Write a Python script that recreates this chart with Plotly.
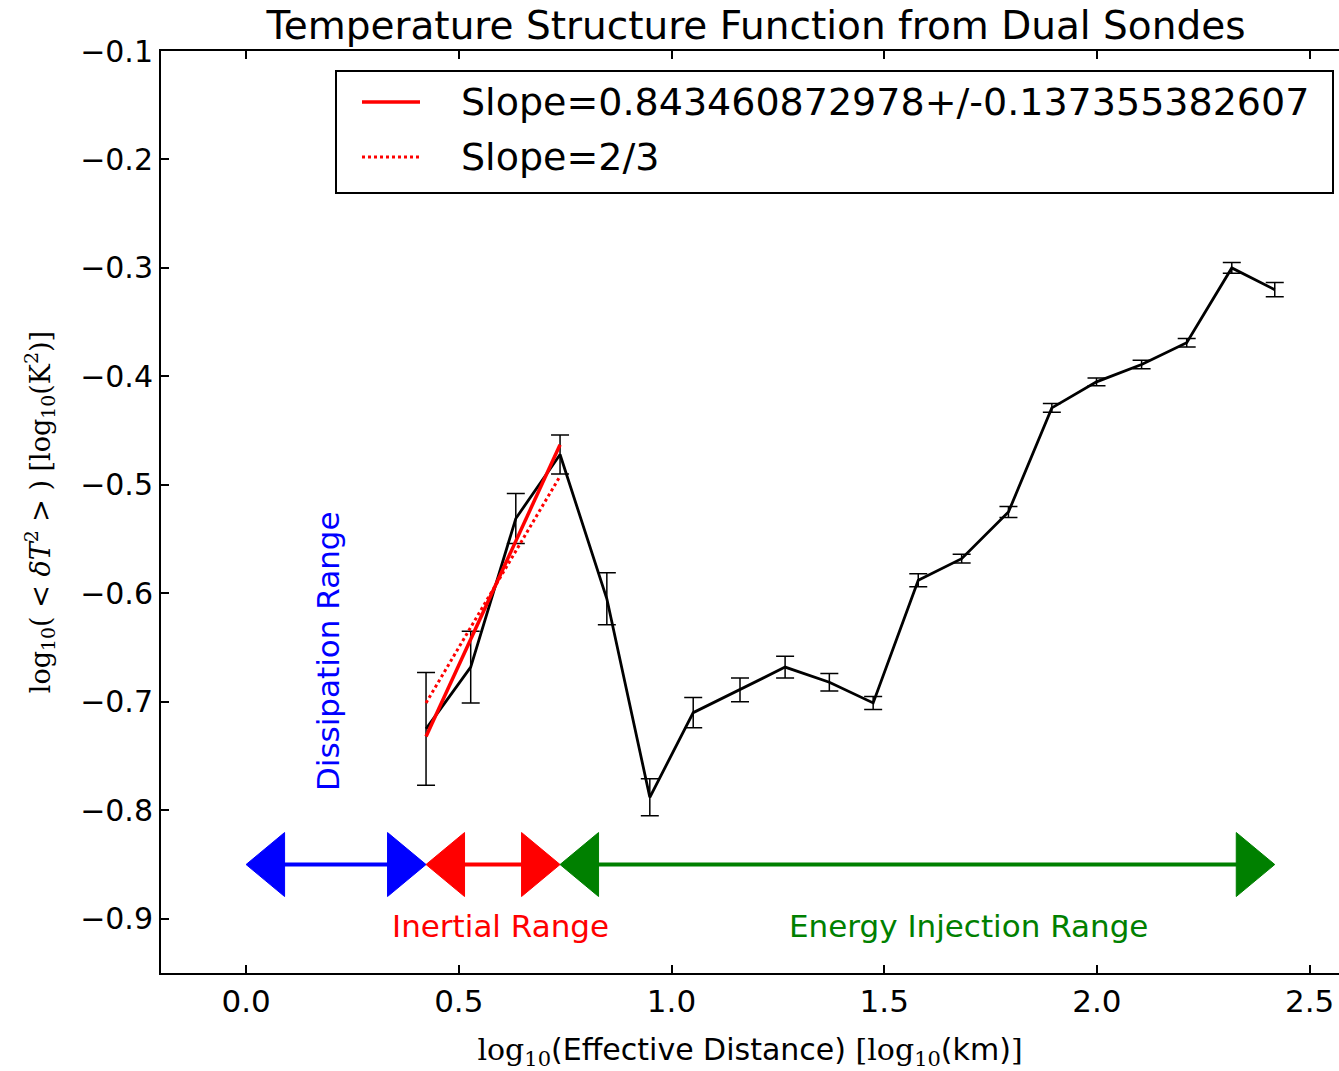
import plotly.graph_objects as go

# ---------------- data ----------------
log_dist = [0.423, 0.528, 0.634, 0.738, 0.848, 0.949, 1.051, 1.161, 1.267, 1.371,
            1.474, 1.580, 1.682, 1.792, 1.894, 1.999, 2.105, 2.211, 2.317, 2.418]
log_dT2 = [-0.725, -0.668, -0.531, -0.472, -0.605, -0.788, -0.710, -0.689, -0.668, -0.682,
           -0.701, -0.588, -0.568, -0.525, -0.429, -0.405, -0.389, -0.369, -0.300, -0.320]
log_dT2_err = [0.052, 0.033, 0.023, 0.018, 0.024, 0.017, 0.014, 0.011, 0.010, 0.008,
               0.006, 0.006, 0.004, 0.005, 0.004, 0.0035, 0.004, 0.004, 0.005, 0.0065]

fit_x = [0.423, 0.738]
fit_y = [-0.732, -0.463]          # Slope=0.8435 fit
k41_y = [-0.701, -0.492]          # Slope=2/3 reference

fit_label = "Slope=0.843460872978+/-0.137355382607"
k41_label = "Slope=2/3"

range_names = ["Dissipation Range", "Inertial Range", "Energy Injection Range"]
range_start = [0.0, 0.423, 0.738]
range_end = [0.423, 0.738, 2.418]
range_colors = ["#0000ff", "#ff0000", "#008000"]
arrow_y = -0.85
label_x = [0.193, 0.599, 1.698]
label_y = [-0.653, -0.907, -0.907]
label_angle = [-90, 0, 0]

# ---------------- layout geometry ----------------
OFF = 0                      # page body margin removed via post_script
PW, PH = 1339, 1071          # page size
W, H = PW - OFF, PH - OFF
PL, PT, PR, PB = 161, 51, 1339, 973   # plot area in page pixels
ML, MT = PL - OFF, PT - OFF
MR = W - (PR - OFF)
MB = H - (PB - OFF)
xr = [-0.2, 2.569]
yr = [-0.95, -0.1]
px_per_x = (PR - PL) / (xr[1] - xr[0])
px_per_y = (PB - PT) / (yr[1] - yr[0])
head_len = 38.5 / px_per_x
head_half = 32 / px_per_y


def pxx(p):  # page pixel x -> paper coordinate
    return (p - PL) / (PR - PL)


def pxy(p):  # page pixel y -> paper coordinate
    return 1 - (p - PT) / (PB - PT)


fig = go.Figure()
shapes = []

# arrows
for s, e, c in zip(range_start, range_end, range_colors):
    fig.add_trace(go.Scatter(x=[s + head_len * 0.5, e - head_len * 0.5], y=[arrow_y, arrow_y],
                             mode="lines", line=dict(color=c, width=4),
                             showlegend=False, hoverinfo="skip"))
    shapes.append(dict(type="path", xref="x", yref="y",
                       path=f"M {s},{arrow_y} L {s + head_len},{arrow_y + head_half} "
                            f"L {s + head_len},{arrow_y - head_half} Z",
                       fillcolor=c, line=dict(color=c, width=1), layer="above"))
    shapes.append(dict(type="path", xref="x", yref="y",
                       path=f"M {e},{arrow_y} L {e - head_len},{arrow_y + head_half} "
                            f"L {e - head_len},{arrow_y - head_half} Z",
                       fillcolor=c, line=dict(color=c, width=1), layer="above"))

# data with error bars
fig.add_trace(go.Scatter(x=log_dist, y=log_dT2, mode="lines",
                         line=dict(color="black", width=2.8),
                         error_y=dict(type="data", array=log_dT2_err, visible=True,
                                      color="black", thickness=1.5, width=9),
                         showlegend=False))

# fit lines
fig.add_trace(go.Scatter(x=fit_x, y=fit_y, mode="lines", name=fit_label,
                         line=dict(color="#ff0000", width=3.5), showlegend=False))
fig.add_trace(go.Scatter(x=fit_x, y=k41_y, mode="lines", name=k41_label,
                         line=dict(color="#ff0000", width=3, dash="dot"), showlegend=False))

annotations = []
for name, lx, ly, c, ang in zip(range_names, label_x, label_y, range_colors, label_angle):
    annotations.append(dict(x=lx, y=ly, xref="x", yref="y", text=name, showarrow=False,
                            textangle=ang, font=dict(color=c, size=31,
                                                     family="DejaVu Sans")))

# hand-built legend box (matplotlib style)
shapes.append(dict(type="rect", xref="paper", yref="paper",
                   x0=pxx(336), x1=pxx(1333), y0=pxy(193), y1=pxy(71),
                   line=dict(color="black", width=2), fillcolor="white", layer="above"))
for py, lbl, dash, lw in [(102, fit_label, "solid", 3.5), (157, k41_label, "dot", 3)]:
    shapes.append(dict(type="line", xref="paper", yref="paper",
                       x0=pxx(362), x1=pxx(420), y0=pxy(py), y1=pxy(py),
                       line=dict(color="#ff0000", width=lw, dash=dash), layer="above"))
    annotations.append(dict(x=pxx(459), y=pxy(py), xref="paper", yref="paper",
                            xanchor="left", yanchor="middle", text=lbl, showarrow=False,
                            font=dict(size=38, family="DejaVu Sans", color="black")))

serif = "font-family:'DejaVu Serif','Liberation Serif'"
xlabel = (f"<span style=\"{serif}\">log<sub>10</sub></span>(Effective Distance) "
          f"<span style=\"{serif}\">[log<sub>10</sub></span>(km)<span style=\"{serif}\">]</span>")
ylabel = "log<sub>10</sub>( &lt; <i>δT</i><sup>2</sup> &gt; ) [log<sub>10</sub>(K<sup>2</sup>)]"

fig.update_layout(
    width=W, height=H,
    margin=dict(l=ML, r=MR, t=MT, b=MB, pad=0),
    paper_bgcolor="white", plot_bgcolor="white",
    font=dict(family="DejaVu Sans", size=30, color="black"),
    title=dict(text="Temperature Structure Function from Dual Sondes",
               x=(756 - OFF) / W, xanchor="center",
               y=1 - (25 - OFF) / H, yanchor="middle", font=dict(size=39)),
    shapes=shapes,
    annotations=annotations,
    showlegend=False,
)

fig.update_xaxes(range=xr, dtick=0.5, tick0=0, tickformat=".1f",
                 showline=True, linecolor="black", linewidth=2, mirror="ticks",
                 ticks="inside", ticklen=8, tickwidth=1.5, tickcolor="black",
                 showgrid=False, zeroline=False, tickfont=dict(size=31),
                 title=dict(text=xlabel, font=dict(size=30), standoff=21))
fig.update_yaxes(range=yr, dtick=0.1, tick0=-0.1, tickformat=".1f",
                 showline=True, linecolor="black", linewidth=2, mirror=False,
                 ticks="inside", ticklen=8, tickwidth=1.5, tickcolor="black",
                 showgrid=False, zeroline=False,
                 title=dict(text=ylabel, font=dict(size=27, family="DejaVu Serif"),
                            standoff=22))

fig.write_html(
    "out.html",
    config={"displayModeBar": False},
    post_script="document.body.style.margin='0';"
                "document.documentElement.style.overflow='hidden';",
)
